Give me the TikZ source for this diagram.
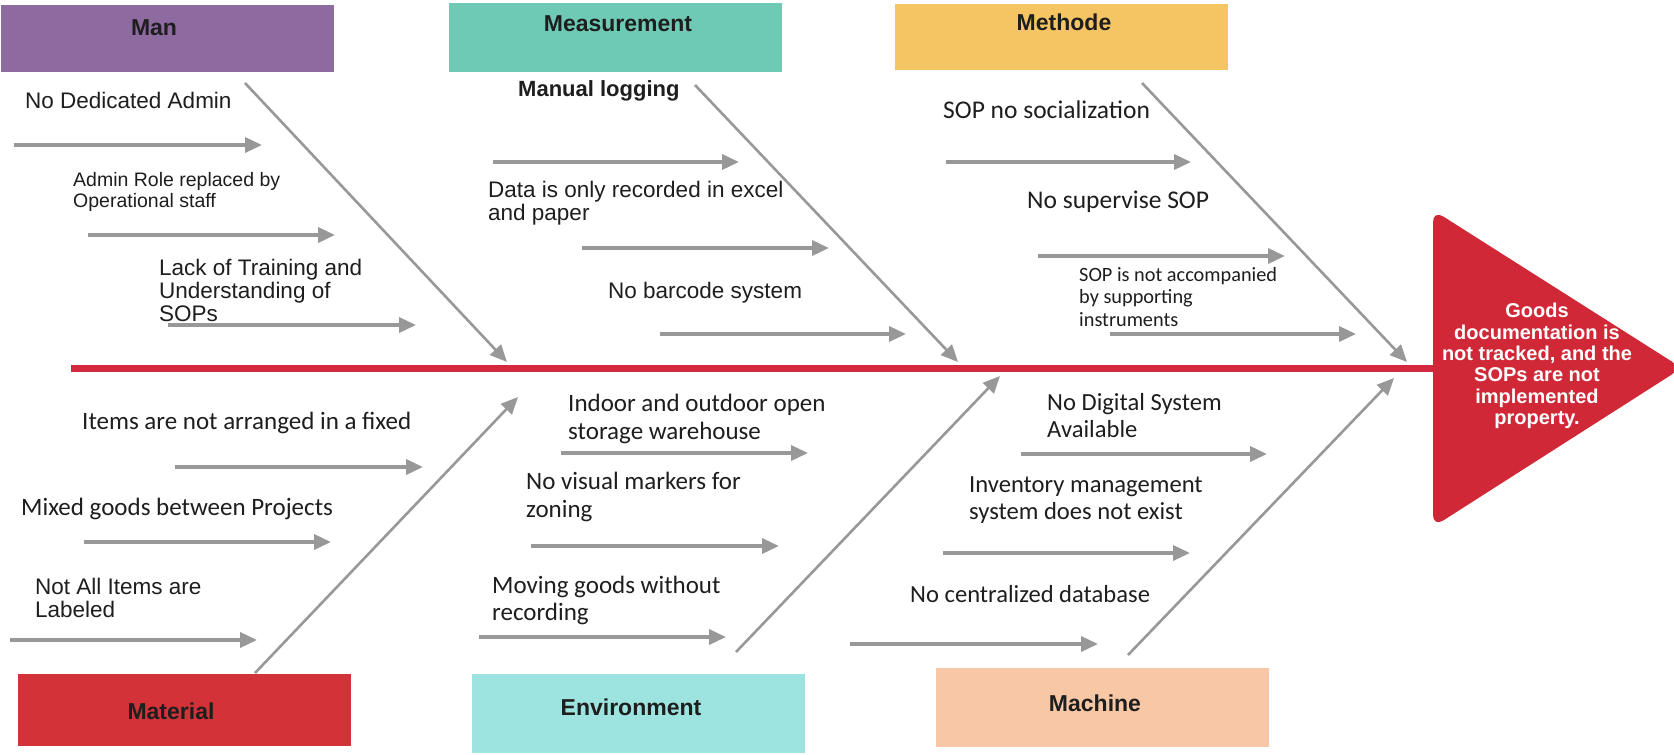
\documentclass[tikz,border=0pt]{standalone}
\usepackage{fontspec}
\setmainfont{Liberation Sans}
\newfontfamily\calibri{Carlito}
\usetikzlibrary{arrows.meta}

\definecolor{manfill}{RGB}{141,106,160}
\definecolor{measfill}{RGB}{111,202,181}
\definecolor{methfill}{RGB}{245,197,100}
\definecolor{matfill}{RGB}{210,50,56}
\definecolor{envfill}{RGB}{157,228,224}
\definecolor{machfill}{RGB}{248,200,166}
\definecolor{spinered}{RGB}{212,40,62}
\definecolor{headred}{RGB}{208,40,54}
\definecolor{bonegrey}{RGB}{152,152,152}
\definecolor{inkgrey}{RGB}{30,30,30}

\tikzset{
  catbox/.style={rectangle, minimum width=333pt, inner sep=0pt},
  cattext/.style={font=\bfseries\fontsize{23}{26}\selectfont, text=inkgrey},
  cause/.style={draw=bonegrey, line width=3.5pt, -{Triangle[length=17pt,width=15pt]}},
  bone/.style={draw=bonegrey, line width=2.6pt, -{Triangle[length=17pt,width=15pt]}},
  arialtxt/.style={anchor=west, align=left, inner sep=0pt, text=inkgrey,
    font=\fontsize{22.5}{23}\selectfont},
  calibritxt/.style={anchor=west, align=left, inner sep=0pt, text=inkgrey,
    font=\calibri\fontsize{25.5}{27.5}\selectfont},
}

\begin{document}
\begin{tikzpicture}[x=1pt,y=-1pt]
    \useasboundingbox[fill=white] (0,0) rectangle (1674,755);

    % Spine and head
    \coordinate (tail) at (71,368);
    \coordinate (head) at (1440,368);
    \draw[spinered, line width=7pt] (tail) -- (head);
    \fill[headred, rounded corners=12pt] (1433,210) -- (1682,368) -- (1433,527) -- cycle;
    \node[align=center, text=white, inner sep=0pt,
      font=\bfseries\fontsize{20}{21.3}\selectfont] (effect) at (1537,366)
      {Goods\\documentation is\\not tracked, and the\\SOPs are not\\implemented\\property.};

    % Category boxes
    \node[catbox, minimum height=67pt, fill=manfill] (man) at (167.5,38.5) {};
    \node[catbox, minimum height=69pt, fill=measfill] (meas) at (615.5,37.5) {};
    \node[catbox, minimum height=66pt, fill=methfill] (meth) at (1061.5,37) {};
    \node[catbox, minimum height=72pt, fill=matfill] (mat) at (184.5,710) {};
    \node[catbox, minimum height=79pt, fill=envfill] (env) at (638,713.5) {};
    \node[catbox, minimum height=79pt, fill=machfill] (mach) at (1102.5,707.5) {};
    \node[cattext] (mantxt) at (154,28) {Man};
    \node[cattext] (meastxt) at (618,24) {Measurement};
    \node[cattext] (methtxt) at (1064,22) {Methode};
    \node[cattext] (mattxt) at (171,711) {Material};
    \node[cattext] (envtxt) at (631,707) {Environment};
    \node[cattext] (machtxt) at (1095,703) {Machine};

    % Bones
    \coordinate (man-s) at (245,83);    \coordinate (man-e) at (507,362);
    \coordinate (meas-s) at (695,85);   \coordinate (meas-e) at (958,362);
    \coordinate (meth-s) at (1142,83);  \coordinate (meth-e) at (1407,362);
    \coordinate (mat-s) at (255,673);   \coordinate (mat-e) at (518,397);
    \coordinate (env-s) at (736,652);   \coordinate (env-e) at (1000,376);
    \coordinate (mach-s) at (1128,655); \coordinate (mach-e) at (1394,378);
    \draw[bone] (man-s) -- (man-e);
    \draw[bone] (meas-s) -- (meas-e);
    \draw[bone] (meth-s) -- (meth-e);
    \draw[bone] (mat-s) -- (mat-e);
    \draw[bone] (env-s) -- (env-e);
    \draw[bone] (mach-s) -- (mach-e);

    % Man
    \node[arialtxt] (man1) at (25,100) {No Dedicated Admin};
    \node[arialtxt, font=\fontsize{19.5}{20.5}\selectfont] (man2) at (73,192)
      {Admin Role replaced by\\Operational staff};
    \node[arialtxt] (man3) at (159,290) {Lack of Training and\\Understanding of\\SOPs};
    \coordinate (man1a) at (14,145);  \coordinate (man1b) at (262,145);
    \coordinate (man2a) at (88,235);  \coordinate (man2b) at (335,235);
    \coordinate (man3a) at (168,325); \coordinate (man3b) at (416,325);
    \draw[cause] (man1a) -- (man1b);
    \draw[cause] (man2a) -- (man2b);
    \draw[cause] (man3a) -- (man3b);

    % Measurement
    \node[arialtxt, font=\bfseries\fontsize{22}{23}\selectfont] (meas1) at (518,91) {Manual logging};
    \node[arialtxt] (meas2) at (488,203) {Data is only recorded in excel\\and paper};
    \node[arialtxt] (meas3) at (608,293) {No barcode system};
    \coordinate (meas1a) at (493,162); \coordinate (meas1b) at (739,162);
    \coordinate (meas2a) at (582,248); \coordinate (meas2b) at (829,248);
    \coordinate (meas3a) at (660,334); \coordinate (meas3b) at (906,334);
    \draw[cause] (meas1a) -- (meas1b);
    \draw[cause] (meas2a) -- (meas2b);
    \draw[cause] (meas3a) -- (meas3b);

    % Methode
    \node[calibritxt] (meth1) at (943,110) {SOP no socialization};
    \node[calibritxt] (meth2) at (1027,202) {No supervise SOP};
    \node[calibritxt, font=\calibri\fontsize{20.3}{22.5}\selectfont] (meth3) at (1079,297)
      {SOP is not accompanied\\by supporting\\instruments};
    \coordinate (meth1a) at (946,162);  \coordinate (meth1b) at (1191,162);
    \coordinate (meth2a) at (1038,256); \coordinate (meth2b) at (1285,256);
    \coordinate (meth3a) at (1110,334); \coordinate (meth3b) at (1356,334);
    \draw[cause] (meth1a) -- (meth1b);
    \draw[cause] (meth2a) -- (meth2b);
    \draw[cause] (meth3a) -- (meth3b);

    % Material
    \node[calibritxt, font=\calibri\fontsize{25}{27.5}\selectfont] (mat1) at (82,423)
      {Items are not arranged in a fixed};
    \node[calibritxt, font=\calibri\fontsize{25}{27.5}\selectfont] (mat2) at (21,509)
      {Mixed goods between Projects};
    \node[arialtxt] (mat3) at (35,598) {Not All Items are\\Labeled};
    \coordinate (mat1a) at (175,467); \coordinate (mat1b) at (423,467);
    \coordinate (mat2a) at (84,542);  \coordinate (mat2b) at (331,542);
    \coordinate (mat3a) at (10,640);  \coordinate (mat3b) at (257,640);
    \draw[cause] (mat1a) -- (mat1b);
    \draw[cause] (mat2a) -- (mat2b);
    \draw[cause] (mat3a) -- (mat3b);

    % Environment
    \node[calibritxt, font=\calibri\fontsize{25}{28}\selectfont] (env1) at (568,419)
      {Indoor and outdoor open\\storage warehouse};
    \node[calibritxt, font=\calibri\fontsize{25}{28}\selectfont] (env2) at (526,497)
      {No visual markers for\\zoning};
    \node[calibritxt, font=\calibri\fontsize{25}{27}\selectfont] (env3) at (492,600)
      {Moving goods without\\recording};
    \coordinate (env1a) at (561,453); \coordinate (env1b) at (808,453);
    \coordinate (env2a) at (531,546); \coordinate (env2b) at (779,546);
    \coordinate (env3a) at (479,637); \coordinate (env3b) at (726,637);
    \draw[cause] (env1a) -- (env1b);
    \draw[cause] (env2a) -- (env2b);
    \draw[cause] (env3a) -- (env3b);

    % Machine
    \node[calibritxt, font=\calibri\fontsize{24.6}{27}\selectfont] (mach1) at (1047,416)
      {No Digital System\\Available};
    \node[calibritxt, font=\calibri\fontsize{24.6}{27}\selectfont] (mach2) at (969,500)
      {Inventory management\\system does not exist};
    \node[calibritxt, font=\calibri\fontsize{24.6}{27}\selectfont] (mach3) at (910,594)
      {No centralized database};
    \coordinate (mach1a) at (1021,454); \coordinate (mach1b) at (1267,454);
    \coordinate (mach2a) at (943,553);  \coordinate (mach2b) at (1190,553);
    \coordinate (mach3a) at (850,644);  \coordinate (mach3b) at (1098,644);
    \draw[cause] (mach1a) -- (mach1b);
    \draw[cause] (mach2a) -- (mach2b);
    \draw[cause] (mach3a) -- (mach3b);
\end{tikzpicture}
\end{document}
